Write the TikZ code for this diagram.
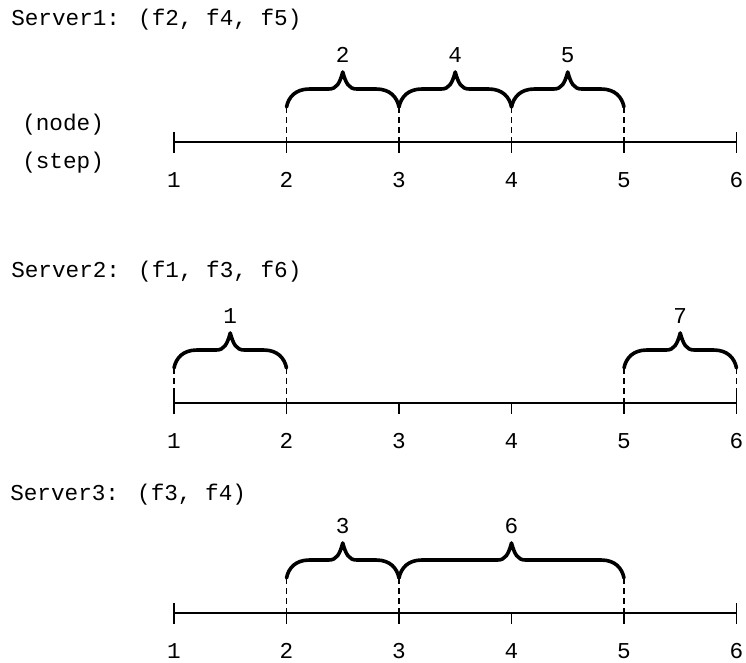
\documentclass[tikz,border=0pt]{standalone}
\usepackage{fontspec}
\setmainfont{Liberation Mono}

\tikzset{
  axisline/.style={line width=1.1pt},
  tickmark/.style={line width=1.4pt},
  guide/.style={line width=1.35pt, dash pattern=on 4.5pt off 3pt},
  bracepath/.style={line width=2.7pt, line cap=round, line join=round},
  lbl/.style={font=\fontsize{17}{20}\selectfont, inner sep=0pt},
}

% one time axis with ticks 1..6 at height #2
\newcommand\axisrow[2]{%
  \foreach \i in {1,...,6}{
    \coordinate (#1-\i) at ({174+112.5*(\i-1)},#2);
    \node[lbl] (#1-l\i) at ({174+112.5*(\i-1)},#2+38) {\i};
  }
  \draw[axisline] (#1-1) -- (#1-6);
  \draw[tickmark] (#1-1) ++(0,-10) -- ++(0,21);
  \draw[tickmark] (#1-6) ++(0,-10) -- ++(0,21);
  \foreach \i in {2,...,5}{
    \draw[tickmark] (#1-\i) -- ++(0,11);
  }
}

% curly brace over steps #3..#4 of axis #2, labelled #5
\newcommand\srvbrace[6]{%
  \pgfmathsetmacro\xa{174+112.5*(#3-1)}
  \pgfmathsetmacro\xb{174+112.5*(#4-1)}
  \pgfmathsetmacro\xm{(\xa+\xb)/2}
  \pgfmathsetmacro\ye{#6-35}
  \pgfmathsetmacro\yf{#6-53}
  \pgfmathsetmacro\yc{#6-70}
  \coordinate (#1-a) at (\xa,\ye);
  \coordinate (#1-b) at (\xb,\ye);
  \draw[bracepath] (#1-a)
    .. controls (\xa+2,\yf+8) and (\xa+9,\yf) .. (\xa+23,\yf)
    -- (\xm-14,\yf)
    .. controls (\xm-6,\yf) and (\xm-3,\yf-6) .. (\xm,\yc)
    .. controls (\xm+3,\yf-6) and (\xm+6,\yf) .. (\xm+14,\yf)
    -- (\xb-23,\yf)
    .. controls (\xb-9,\yf) and (\xb-2,\yf+8) .. (#1-b);
  \node[lbl] (#1-t) at (\xm,#6-87) {#5};
  \draw[guide] (#1-a) -- (#2-#3);
  \draw[guide] (#1-b) -- (#2-#4);
}

\begin{document}
\begin{tikzpicture}[x=0.75pt,y=-0.75pt]
  \useasboundingbox (0,0) rectangle (746,662);

  % Server 1
  \node[lbl, anchor=west] (s1) at (11,20) {Server1: (f2, f4, f5)};
  \node[lbl, anchor=west] (nodetag) at (22,125) {(node)};
  \node[lbl, anchor=west] (steptag) at (22,163) {(step)};
  \axisrow{A}{142}
  \srvbrace{b2}{A}{2}{3}{2}{142}
  \srvbrace{b4}{A}{3}{4}{4}{142}
  \srvbrace{b5}{A}{4}{5}{5}{142}

  % Server 2
  \node[lbl, anchor=west] (s2) at (11,272) {Server2: (f1, f3, f6)};
  \axisrow{B}{403}
  \srvbrace{b1}{B}{1}{2}{1}{403}
  \srvbrace{b7}{B}{5}{6}{7}{403}

  % Server 3
  \node[lbl, anchor=west] (s3) at (10,495) {Server3: (f3, f4)};
  \axisrow{C}{613}
  \srvbrace{b3}{C}{2}{3}{3}{613}
  \srvbrace{b6}{C}{3}{5}{6}{613}
\end{tikzpicture}
\end{document}
